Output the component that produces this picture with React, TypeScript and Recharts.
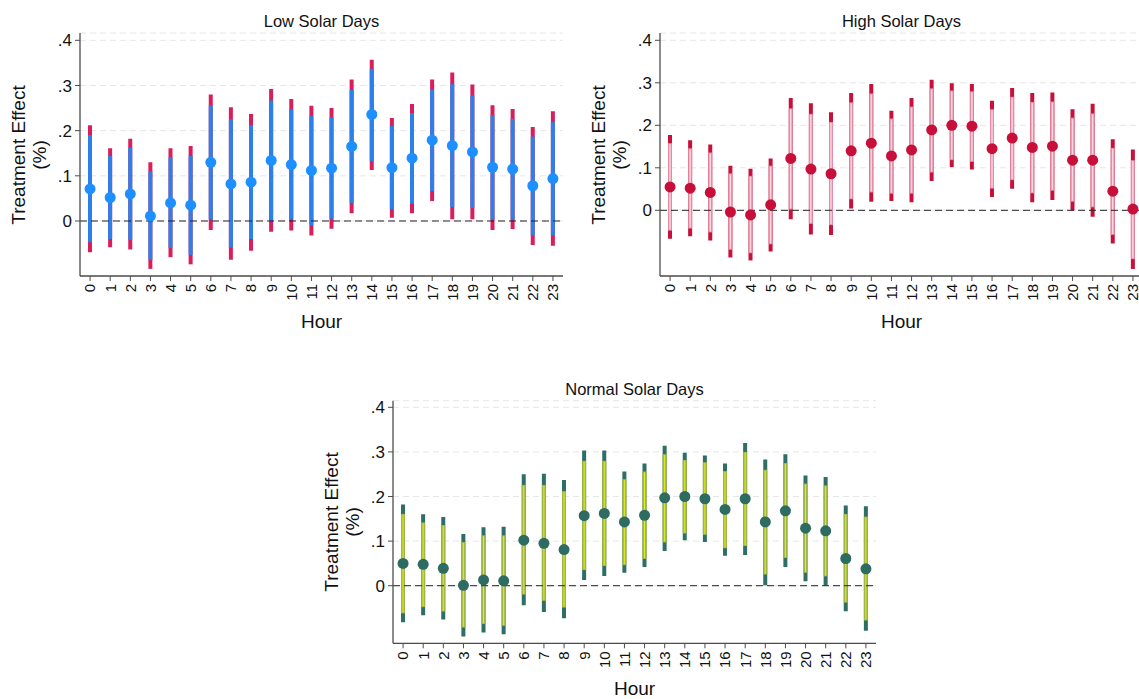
import React from 'react';
import { ComposedChart, Bar, Line, XAxis, YAxis, CartesianGrid, ReferenceLine } from 'recharts';

const FONT = '"Liberation Sans", Arial, Helvetica, sans-serif';

const hours = ['0', '1', '2', '3', '4', '5', '6', '7', '8', '9', '10', '11', '12', '13', '14', '15', '16', '17', '18', '19', '20', '21', '22', '23'];
const yTicks = [0, 0.1, 0.2, 0.3, 0.4];

// Low solar days
const lowEst = [0.071, 0.052, 0.060, 0.011, 0.040, 0.035, 0.130, 0.082, 0.086, 0.134, 0.125, 0.112, 0.117, 0.165, 0.236, 0.118, 0.139, 0.179, 0.167, 0.153, 0.119, 0.115, 0.078, 0.094];
const lowHi95 = [0.212, 0.161, 0.182, 0.130, 0.161, 0.166, 0.280, 0.252, 0.237, 0.292, 0.270, 0.255, 0.250, 0.313, 0.357, 0.228, 0.259, 0.313, 0.329, 0.302, 0.256, 0.248, 0.208, 0.243];
const lowHi90 = [0.190, 0.144, 0.163, 0.110, 0.141, 0.144, 0.256, 0.225, 0.212, 0.267, 0.247, 0.232, 0.229, 0.290, 0.337, 0.210, 0.239, 0.291, 0.303, 0.278, 0.234, 0.226, 0.187, 0.219];
const lowLo90 = [-0.047, -0.040, -0.042, -0.086, -0.060, -0.075, 0.004, -0.059, -0.040, 0.000, 0.004, -0.009, 0.005, 0.040, 0.133, 0.026, 0.038, 0.066, 0.031, 0.029, 0.003, 0.003, -0.032, -0.032];
const lowLo95 = [-0.069, -0.058, -0.063, -0.106, -0.080, -0.096, -0.020, -0.086, -0.066, -0.024, -0.021, -0.032, -0.017, 0.017, 0.113, 0.007, 0.017, 0.044, 0.004, 0.004, -0.020, -0.018, -0.053, -0.055];

// High solar days
const highEst = [0.055, 0.052, 0.042, -0.004, -0.011, 0.013, 0.122, 0.097, 0.086, 0.140, 0.158, 0.128, 0.142, 0.189, 0.200, 0.198, 0.145, 0.170, 0.148, 0.151, 0.118, 0.118, 0.045, 0.003];
const highHi95 = [0.177, 0.165, 0.155, 0.105, 0.098, 0.122, 0.264, 0.252, 0.231, 0.276, 0.297, 0.234, 0.264, 0.307, 0.299, 0.297, 0.258, 0.288, 0.276, 0.277, 0.238, 0.251, 0.167, 0.143];
const highHi90 = [0.158, 0.146, 0.136, 0.087, 0.081, 0.105, 0.240, 0.227, 0.208, 0.254, 0.275, 0.216, 0.244, 0.287, 0.282, 0.280, 0.238, 0.267, 0.255, 0.256, 0.218, 0.228, 0.147, 0.118];
const highLo90 = [-0.048, -0.043, -0.052, -0.093, -0.101, -0.080, 0.002, -0.032, -0.035, 0.026, 0.042, 0.039, 0.039, 0.089, 0.118, 0.114, 0.051, 0.071, 0.040, 0.046, 0.020, 0.007, -0.058, -0.115];
const highLo95 = [-0.067, -0.061, -0.071, -0.111, -0.118, -0.097, -0.021, -0.057, -0.058, 0.004, 0.020, 0.022, 0.019, 0.069, 0.102, 0.096, 0.031, 0.051, 0.019, 0.024, 0.000, -0.015, -0.078, -0.138];

// Normal solar days
const normEst = [0.050, 0.048, 0.039, 0.001, 0.013, 0.011, 0.102, 0.095, 0.081, 0.157, 0.162, 0.143, 0.158, 0.197, 0.200, 0.195, 0.171, 0.195, 0.143, 0.168, 0.129, 0.123, 0.061, 0.038];
const normHi95 = [0.182, 0.160, 0.154, 0.116, 0.131, 0.132, 0.250, 0.251, 0.237, 0.303, 0.303, 0.256, 0.274, 0.314, 0.298, 0.292, 0.274, 0.320, 0.283, 0.295, 0.247, 0.244, 0.180, 0.178];
const normHi90 = [0.161, 0.142, 0.136, 0.098, 0.113, 0.113, 0.226, 0.226, 0.212, 0.280, 0.280, 0.239, 0.256, 0.295, 0.282, 0.277, 0.257, 0.300, 0.260, 0.275, 0.229, 0.225, 0.161, 0.155];
const normLo90 = [-0.062, -0.048, -0.058, -0.094, -0.086, -0.090, -0.020, -0.034, -0.049, 0.035, 0.044, 0.046, 0.060, 0.097, 0.117, 0.114, 0.084, 0.089, 0.025, 0.062, 0.029, 0.021, -0.038, -0.078];
const normLo95 = [-0.082, -0.066, -0.076, -0.114, -0.105, -0.109, -0.044, -0.059, -0.073, 0.013, 0.022, 0.029, 0.042, 0.078, 0.102, 0.098, 0.067, 0.069, 0.001, 0.042, 0.010, 0.001, -0.057, -0.101];

const AXIS = '#4d4d4d';

const fmtY = (v: number) => (v === 0 ? '0' : String(Number(v.toFixed(1))).replace(/^0/, ''));

const HourTick = (props: any) => {
  const { x, y, payload } = props;
  return (
    <g transform={`translate(${x},${y}) rotate(-90)`}>
      <text x={0} y={0} dy="0.36em" textAnchor="end" fontSize={15} fill="#111" fontFamily={FONT}>
        {payload.value}
      </text>
    </g>
  );
};

interface Colors {
  ci95: string;
  ci90: string;
  inner?: string;
  innerW?: number;
  dot: string;
}

interface PanelProps {
  left: number;
  top: number;
  plotTop: number;
  plotH: number;
  title: string;
  domain: [number, number];
  colors: Colors;
  est: number[];
  lo95: number[];
  hi95: number[];
  lo90: number[];
  hi90: number[];
}

const Panel: React.FC<PanelProps> = ({ left, top, plotTop, plotH, title, domain, colors, est, lo95, hi95, lo90, hi90 }) => {
  const data = hours.map((h, i) => ({
    hour: h,
    est: est[i],
    ci95: [lo95[i], hi95[i]],
    ci90: [lo90[i], hi90[i]],
  }));

  const ci90Shape = (p: any) => {
    const yy = Math.min(p.y, p.y + p.height);
    const hh = Math.abs(p.height);
    const iw = colors.innerW ?? 1.5;
    return (
      <g>
        <rect x={p.x} y={yy} width={p.width} height={hh} fill={colors.ci90} />
        {colors.inner && (
          <rect x={p.x + p.width / 2 - iw / 2} y={yy + 1} width={iw} height={Math.max(hh - 2, 0)} fill={colors.inner} />
        )}
      </g>
    );
  };

  const plotCx = 80 + 241.5;

  return (
    <div style={{ position: 'absolute', left, top, width: 580, height: 340 }}>
      <ComposedChart
        width={580}
        height={340}
        data={data}
        margin={{ top: plotTop, right: 17, bottom: 340 - plotTop - plotH - 30, left: 35 }}
        barSize={4}
        barGap={-4}
      >
        <CartesianGrid vertical={false} stroke="#e6e6e6" strokeDasharray="6 4" />
        <XAxis
          dataKey="hour"
          interval={0}
          height={30}
          tickSize={5}
          tickMargin={3}
          tick={<HourTick />}
          axisLine={{ stroke: AXIS, strokeWidth: 1.3 }}
          tickLine={{ stroke: AXIS }}
        />
        <YAxis
          type="number"
          domain={domain}
          allowDataOverflow
          ticks={yTicks}
          tickFormatter={fmtY}
          width={45}
          tickSize={5}
          tickMargin={3}
          tick={{ fontSize: 17, fill: '#111', fontFamily: FONT }}
          axisLine={{ stroke: AXIS, strokeWidth: 1.3 }}
          tickLine={{ stroke: AXIS }}
        />
        <ReferenceLine y={0} stroke="#222" strokeDasharray="7 4" />
        <Bar dataKey="ci95" fill={colors.ci95} isAnimationActive={false} />
        <Bar dataKey="ci90" fill={colors.ci90} shape={ci90Shape} isAnimationActive={false} />
        <Line
          dataKey="est"
          stroke="none"
          dot={{ r: 5.5, fill: colors.dot, stroke: colors.dot, strokeWidth: 0 }}
          activeDot={false}
          isAnimationActive={false}
        />
      </ComposedChart>
      <div
        style={{
          position: 'absolute',
          left: plotCx,
          top: plotTop - 12,
          transform: 'translate(-50%, -50%)',
          fontSize: 16.5,
          whiteSpace: 'nowrap',
          color: '#111',
        }}
      >
        {title}
      </div>
      <div
        style={{
          position: 'absolute',
          left: plotCx,
          top: plotTop + plotH + 46,
          transform: 'translate(-50%, -50%)',
          fontSize: 19,
          whiteSpace: 'nowrap',
          color: '#111',
        }}
      >
        Hour
      </div>
      <div
        style={{
          position: 'absolute',
          left: 28.5,
          top: plotTop + plotH / 2,
          transform: 'translate(-50%, -50%) rotate(-90deg)',
          fontSize: 19,
          lineHeight: '21px',
          textAlign: 'center',
          whiteSpace: 'nowrap',
          color: '#111',
        }}
      >
        Treatment Effect
        <br />
        (%)
      </div>
    </div>
  );
};

export default function App() {
  return (
    <div
      style={{
        position: 'absolute',
        left: 0,
        top: 0,
        width: 1139,
        height: 699,
        overflow: 'hidden',
        background: '#fff',
        fontFamily: FONT,
      }}
    >
      <Panel
        left={0}
        top={0}
        plotTop={33}
        plotH={243}
        title="Low Solar Days"
        domain={[-0.1218, 0.4162]}
        colors={{ ci95: '#d81e5b', ci90: '#2b80ec', dot: '#1e8fff' }}
        est={lowEst}
        lo95={lowLo95}
        hi95={lowHi95}
        lo90={lowLo90}
        hi90={lowHi90}
      />
      <Panel
        left={580}
        top={0}
        plotTop={33}
        plotH={243}
        title="High Solar Days"
        domain={[-0.1546, 0.4172]}
        colors={{ ci95: '#c8103a', ci90: '#e68aa5', inner: '#f8d6e0', dot: '#c80f3a' }}
        est={highEst}
        lo95={highLo95}
        hi95={highHi95}
        lo90={highLo90}
        hi90={highHi90}
      />
      <Panel
        left={313}
        top={370}
        plotTop={30.7}
        plotH={242.6}
        title="Normal Solar Days"
        domain={[-0.1291, 0.4148]}
        colors={{ ci95: '#2e6e64', ci90: '#9fb845', inner: '#e4ec1a', innerW: 1, dot: '#2e6b60' }}
        est={normEst}
        lo95={normLo95}
        hi95={normHi95}
        lo90={normLo90}
        hi90={normHi90}
      />
    </div>
  );
}
